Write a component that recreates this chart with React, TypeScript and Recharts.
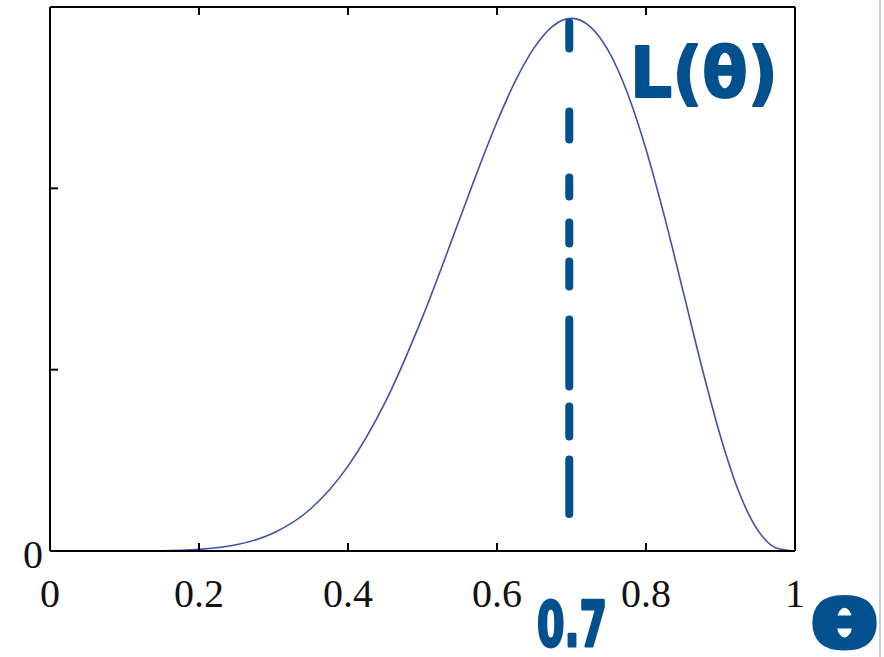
import React from "react";
import { LineChart, Line, XAxis, YAxis, ReferenceLine } from "recharts";

const thetaValues = [0, 0.05, 0.1, 0.15, 0.2, 0.25, 0.3, 0.35, 0.4, 0.45, 0.5, 0.55, 0.575, 0.6, 0.625, 0.65, 0.675, 0.7, 0.725, 0.75, 0.775, 0.8, 0.825, 0.85, 0.875, 0.9, 0.925, 0.95, 0.975, 1];
const likelihoodValues = [0, 0, 0.0001, 0.0014, 0.009, 0.034, 0.099, 0.233, 0.468, 0.821, 1.29, 1.832, 2.107, 2.366, 2.595, 2.776, 2.895, 2.937, 2.892, 2.755, 2.526, 2.216, 1.841, 1.429, 1.013, 0.632, 0.323, 0.115, 0.017, 0];

const xTicks = [0, 0.2, 0.4, 0.6, 0.8, 1];
const xTickLabels = ["0", "0.2", "0.4", "0.6", "0.8", "1"];
const yTicks = [0, 1, 2, 3];
const yTickLabels = ["0", "", "", ""];

const mleTheta = 0.697;
const markerTop = 2.915;
const markerBottom = 0.204;

const annotationLikelihood = "L(θ)";
const annotationMle = "0.7";
const annotationTheta = "θ";

const data = thetaValues.map((t, i) => ({ theta: t, L: likelihoodValues[i] }));

const INK = "#02508d";
const CURVE = "#4050b0";
const FONT = "'Liberation Serif', 'Times New Roman', serif";

const BottomTick = (props: any) => {
  const { x, y, payload } = props;
  const idx = xTicks.indexOf(payload.value);
  return (
    <g>
      <line x1={x} y1={y} x2={x} y2={y - 8} stroke="#000" strokeWidth={2} />
      <text x={x} y={y + 56} textAnchor="middle" fontFamily={FONT} fontSize={40} fill="#111">
        {idx >= 0 ? xTickLabels[idx] : ""}
      </text>
    </g>
  );
};

const TopTick = (props: any) => {
  const { x, y } = props;
  return <line x1={x} y1={y} x2={x} y2={y + 8} stroke="#000" strokeWidth={2} />;
};

const LeftTick = (props: any) => {
  const { x, y, payload } = props;
  const idx = yTicks.indexOf(payload.value);
  return (
    <g>
      <line x1={x} y1={y} x2={x + 8} y2={y} stroke="#000" strokeWidth={2} />
      <text x={x - 7} y={y + 17} textAnchor="end" fontFamily={FONT} fontSize={40} fill="#111">
        {idx >= 0 ? yTickLabels[idx] : ""}
      </text>
    </g>
  );
};

const RightTick = (props: any) => {
  const { x, y } = props;
  return <line x1={x - 8} y1={y} x2={x} y2={y} stroke="#000" strokeWidth={2} />;
};

const axisLine = { stroke: "#000", strokeWidth: 2 };

export default function App() {
  return (
    <div style={{ position: "absolute", left: 0, top: 0, width: 884, height: 657, background: "#fff" }}>
      <LineChart width={884} height={657} data={data} margin={{ top: 0, right: 0, bottom: 0, left: 0 }}>
        <XAxis
          xAxisId="bottom"
          dataKey="theta"
          type="number"
          domain={[0, 1]}
          ticks={xTicks}
          height={106}
          tickSize={0}
          tickMargin={0}
          tickLine={false}
          axisLine={axisLine}
          tick={(p: any) => <BottomTick {...p} />}
          interval={0}
        />
        <XAxis
          xAxisId="top"
          orientation="top"
          dataKey="theta"
          type="number"
          domain={[0, 1]}
          ticks={[0.2, 0.4, 0.6, 0.8]}
          height={7}
          tickSize={0}
          tickMargin={0}
          tickLine={false}
          axisLine={axisLine}
          tick={(p: any) => <TopTick {...p} />}
          interval={0}
        />
        <YAxis
          yAxisId="left"
          type="number"
          domain={[0, 3]}
          ticks={yTicks}
          width={50}
          tickSize={0}
          tickMargin={0}
          tickLine={false}
          axisLine={axisLine}
          tick={(p: any) => <LeftTick {...p} />}
          interval={0}
        />
        <YAxis
          yAxisId="right"
          orientation="right"
          type="number"
          domain={[0, 3]}
          ticks={[1, 2]}
          width={89}
          tickSize={0}
          tickMargin={0}
          tickLine={false}
          axisLine={axisLine}
          tick={(p: any) => <RightTick {...p} />}
          interval={0}
        />
        <Line
          xAxisId="bottom"
          yAxisId="left"
          dataKey="L"
          type="monotone"
          stroke={CURVE}
          strokeWidth={1.6}
          dot={false}
          isAnimationActive={false}
        />
        <ReferenceLine
          xAxisId="bottom"
          yAxisId="left"
          segment={[
            { x: mleTheta, y: markerTop },
            { x: mleTheta, y: markerBottom },
          ]}
          stroke={INK}
          strokeWidth={8}
          strokeLinecap="round"
          strokeDasharray="26 63 28 38 19 26 21 18 25 33 67 20 30 23 55 200"
        />
      </LineChart>
      <svg
        width={884}
        height={657}
        style={{ position: "absolute", left: 0, top: 0, pointerEvents: "none" }}
      >
        <line x1={880} y1={0} x2={880} y2={657} stroke="#cfcfcf" strokeWidth={2} />
        <text
          x={630}
          y={97}
          fontFamily="'DejaVu Sans', sans-serif"
          fontWeight="bold"
          fontSize={70}
          fill={INK}
          stroke={INK}
          strokeWidth={2}
          strokeLinejoin="round"
          textLength={148}
          lengthAdjust="spacingAndGlyphs"
        >
          {annotationLikelihood}
        </text>
        <text
          x={537}
          y={646}
          fontFamily="'DejaVu Sans', sans-serif"
          fontWeight="bold"
          fontSize={62}
          fill={INK}
          stroke={INK}
          strokeWidth={3}
          strokeLinejoin="round"
          textLength={70}
          lengthAdjust="spacingAndGlyphs"
        >
          {annotationMle}
        </text>
        <text
          x={812}
          y={647}
          fontFamily="'DejaVu Sans', sans-serif"
          fontWeight="bold"
          fontSize={64}
          fill={INK}
          stroke={INK}
          strokeWidth={5}
          strokeLinejoin="round"
          textLength={65}
          lengthAdjust="spacingAndGlyphs"
        >
          {annotationTheta}
        </text>
      </svg>
    </div>
  );
}
